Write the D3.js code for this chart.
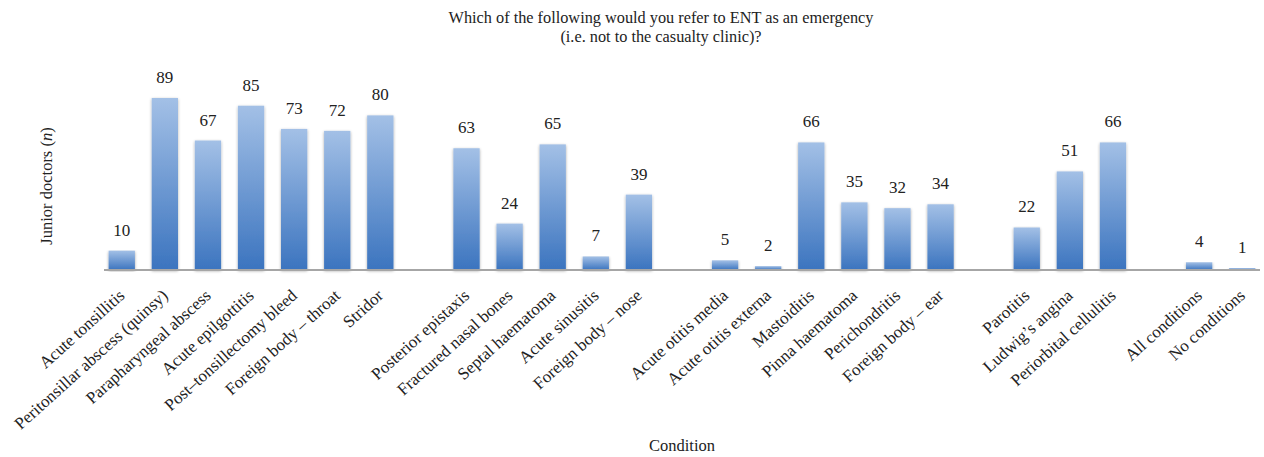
<!DOCTYPE html>
<html>
<head>
<meta charset="utf-8">
<script src="https://cdn.jsdelivr.net/npm/d3@7"></script>
<style>
  body { margin: 0; background: #fff; }
  text { font-family: "Liberation Serif", serif; fill: #222; }
</style>
</head>
<body>
<svg id="chart" width="1264" height="457"></svg>
<script>
'use strict'

// categories, '' marks the blank spacer between groups
const categories = [
  'Acute tonsillitis', 'Peritonsillar abscess (quinsy)', 'Parapharyngeal abscess',
  'Acute epilgottitis', 'Post\u2013tonsillectomy bleed', 'Foreign body \u2013 throat', 'Stridor',
  '',
  'Posterior epistaxis', 'Fractured nasal bones', 'Septal haematoma', 'Acute sinusitis',
  'Foreign body \u2013 nose',
  '',
  'Acute otitis media', 'Acute otitis externa', 'Mastoiditis', 'Pinna haematoma',
  'Perichondritis', 'Foreign body \u2013 ear',
  '',
  'Parotitis', 'Ludwig\u2019s angina', 'Periorbital cellulitis',
  '',
  'All conditions', 'No conditions'
];
const counts = [
  10, 89, 67, 85, 73, 72, 80,
  null,
  63, 24, 65, 7, 39,
  null,
  5, 2, 66, 35, 32, 34,
  null,
  22, 51, 66,
  null,
  4, 1
];
const titleLines = [
  'Which of the following would you refer to ENT as an emergency',
  '(i.e. not to the casualty clinic)?'
];

const svg = d3.select('#chart');
const margin = { left: 100, right: 0, top: 60, bottom: 187 };
const W = 1264, H = 457;
const baseY = H - margin.bottom;

const slots = categories.map((c, i) => i);
const x = d3.scaleBand()
  .domain(slots)
  .range([margin.left, W - margin.right])
  .paddingInner(0.39)
  .paddingOuter(0.2);

const y = d3.scaleLinear()
  .domain([0, 89])
  .range([baseY, 98]);

const defs = svg.append('defs');
const grad = defs.append('linearGradient')
  .attr('id', 'barGrad')
  .attr('x1', 0).attr('y1', 0).attr('x2', 0).attr('y2', 1);
grad.append('stop').attr('offset', '0%').attr('stop-color', '#a3c0e6');
grad.append('stop').attr('offset', '100%').attr('stop-color', '#3b74bf');

const shadow = defs.append('filter').attr('id', 'shadow')
  .attr('x', '-20%').attr('y', '-5%').attr('width', '140%').attr('height', '115%');
shadow.append('feGaussianBlur').attr('in', 'SourceAlpha').attr('stdDeviation', 1.5);
shadow.append('feOffset').attr('dx', 0).attr('dy', 1).attr('result', 'blur');
shadow.append('feComponentTransfer').append('feFuncA').attr('type', 'linear').attr('slope', 0.35);
const merge = shadow.append('feMerge');
merge.append('feMergeNode');
merge.append('feMergeNode').attr('in', 'SourceGraphic');

// title
svg.append('text')
  .attr('x', 661).attr('y', 23)
  .attr('text-anchor', 'middle')
  .style('font-size', '16.3px')
  .selectAll('tspan')
  .data(titleLines)
  .enter().append('tspan')
    .attr('x', 661)
    .attr('dy', (d, i) => i === 0 ? 0 : 19)
    .text(d => d);

const data = slots.filter(i => counts[i] !== null);

// bars
svg.append('g')
  .selectAll('rect')
  .data(data)
  .enter().append('rect')
    .attr('x', i => x(i))
    .attr('y', i => y(counts[i]))
    .attr('width', x.bandwidth())
    .attr('height', i => baseY - y(counts[i]))
    .attr('fill', 'url(#barGrad)')
    .attr('filter', 'url(#shadow)');

// value labels
svg.append('g')
  .selectAll('text')
  .data(data)
  .enter().append('text')
    .attr('x', i => x(i) + x.bandwidth() / 2)
    .attr('y', i => y(counts[i]) - 15)
    .attr('text-anchor', 'middle')
    .style('font-size', '17px')
    .text(i => counts[i]);

// baseline axis
const xAxis = d3.axisBottom(x).tickSize(0).tickFormat(i => categories[i]);
const ax = svg.append('g')
  .attr('transform', 'translate(0,' + baseY + ')')
  .call(xAxis);
ax.select('.domain').attr('stroke', '#a6a6a6').attr('stroke-width', 2)
  .attr('d', 'M' + (margin.left + 4) + ',0H' + (W - 4));
ax.selectAll('.tick text')
  .attr('text-anchor', 'end')
  .attr('dy', 0)
  .attr('y', 0)
  .attr('transform', 'translate(4,27) rotate(-42)')
  .style('font-size', '17px')
  .style('font-family', '"Liberation Serif", serif')
  .attr('fill', '#222');

// axis titles
svg.append('text')
  .attr('x', 682).attr('y', 451)
  .attr('text-anchor', 'middle')
  .style('font-size', '16.5px')
  .text('Condition');

const yl = svg.append('text')
  .attr('transform', 'translate(52,186) rotate(-90)')
  .attr('text-anchor', 'middle')
  .style('font-size', '16.5px');
yl.append('tspan').text('Junior doctors (');
yl.append('tspan').style('font-style', 'italic').text('n');
yl.append('tspan').text(')');
</script>
</body>
</html>
